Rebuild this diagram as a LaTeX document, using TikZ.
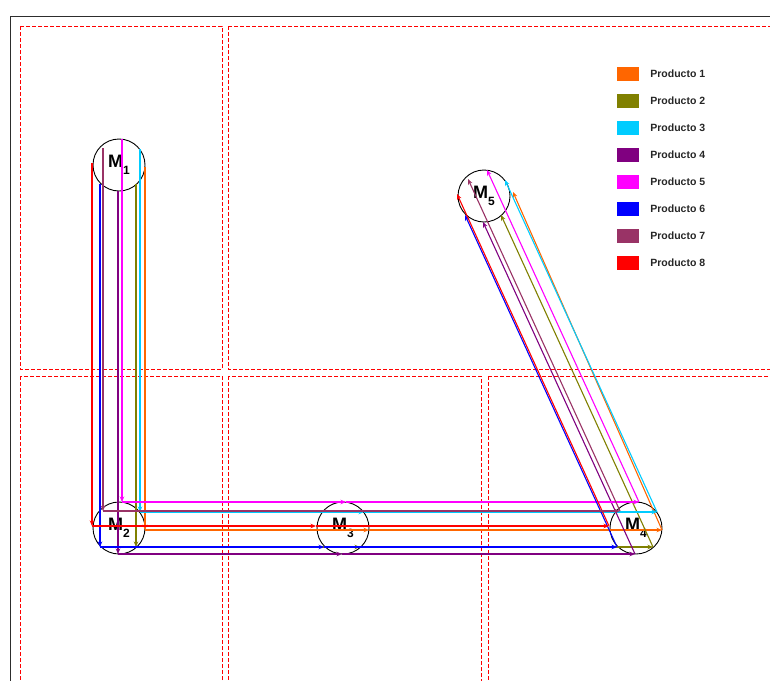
\documentclass[tikz,border=0pt]{standalone}
\usepackage{fontspec}
\setmainfont{Liberation Sans}
\setsansfont{Liberation Sans}
\usetikzlibrary{arrows.meta, positioning, calc}
\definecolor{P1}{RGB}{255,102,0}
\definecolor{P2}{RGB}{128,128,0}
\definecolor{P3}{RGB}{0,204,255}
\definecolor{P4}{RGB}{128,0,128}
\definecolor{P5}{RGB}{255,0,255}
\definecolor{P6}{RGB}{0,0,255}
\definecolor{P7}{RGB}{153,51,102}
\definecolor{P8}{RGB}{255,0,0}
\definecolor{FR}{RGB}{45,45,45}
\newcommand{\maqlab}[1]{\fontsize{18}{18}\selectfont\bfseries M\raisebox{-7pt}{\fontsize{12}{12}\selectfont #1}}

\begin{document}
\begin{tikzpicture}[x=1pt, y=-1pt,
  zona/.style={red, dash pattern=on 4pt off 2pt, line width=0.9pt},
  maq/.style={circle, draw=black, line width=0.9pt, minimum size=52pt, inner sep=0pt},
  flujo/.style={line width=1.1pt, -{Stealth[length=5.5pt, width=4.5pt]}},
  cuadro/.style={minimum width=22pt, minimum height=14pt, inner sep=0pt},
  ley/.style={font=\fontsize{10.5}{12}\selectfont\bfseries, inner sep=0pt, text=black!85}]
\useasboundingbox (0,0) rectangle (770,680);
\clip (0,0) rectangle (770,680);

% marco y zonas
\draw[FR, line width=1pt] (10,700) -- (10,16) -- (790,16);
\draw[zona] (20,26) rectangle (222,369);
\draw[zona] (228,26) rectangle (790,369);
\draw[zona] (20,376) rectangle (222,700);
\draw[zona] (228,376) rectangle (481,700);
\draw[zona] (488,376) rectangle (790,700);

% maquinas
\node[maq] (M1) at (119,165) {\maqlab{1}};
\node[maq] (M2) at (119,528) {\maqlab{2}};
\node[maq] (M3) at (343,528) {\maqlab{3}};
\node[maq] (M4) at (636,528) {\maqlab{4}};
\node[maq] (M5) at (484,196) {\maqlab{5}};

% flujos de productos (puerto en cada maquina, puerto de llegada a M5)
\foreach \c/\dx/\dy/\ex/\ey in {P1/26/2/29/-4, P2/17/19/17/19, P3/21/-16/21/-16,
                                P4/-1/26/-1/26, P5/3/-26/3/-26, P6/-19/19/-19/19,
                                P8/-27/-2/-27/-2}{
  \foreach \a/\b in {M1/M2, M2/M3, M3/M4}
    \draw[flujo, \c] ($(\a)+(\dx,\dy)$) -- ($(\b)+(\dx,\dy)$);
  \draw[flujo, \c] ($(M4)+(\dx,\dy)$) -- ($(M5)+(\ex,\ey)$);
}
\foreach \a/\b in {M1/M2, M2/M4, M4/M5}
  \draw[flujo, P7] ($(\a)+(-16,-17)$) -- ($(\b)+(-16,-17)$);

% leyenda
\foreach \i in {1,...,8}{
  \node[cuadro, fill=P\i] (c\i) at (628,47+27*\i) {};
  \node[ley, right=11pt of c\i] (t\i) {Producto \i};
}
\end{tikzpicture}
\end{document}
